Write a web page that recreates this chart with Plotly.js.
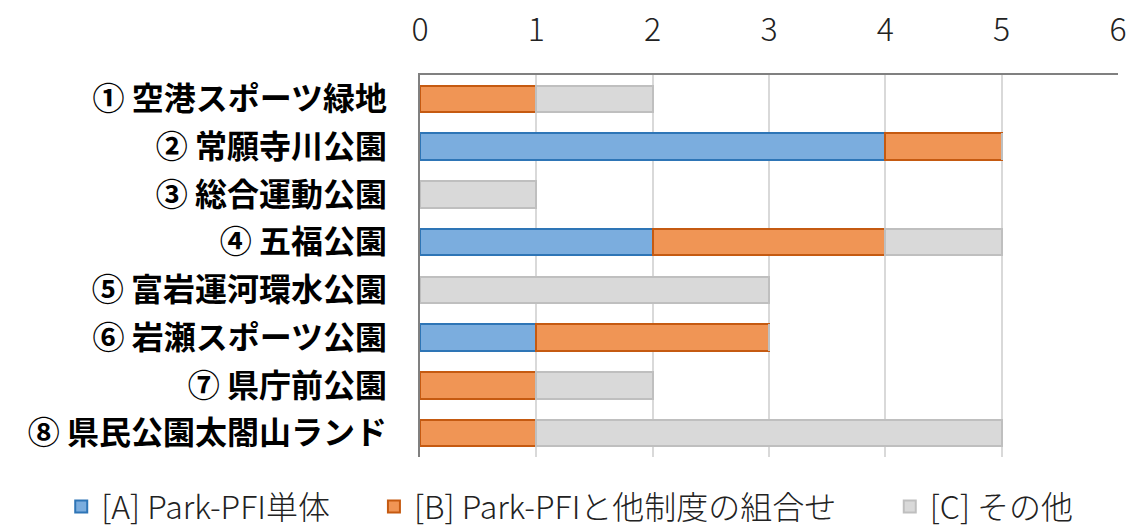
<!DOCTYPE html>
<html><head><meta charset="utf-8">
<script src="https://cdn.plot.ly/plotly-3.0.1.min.js"></script>
<style>html,body{margin:0;padding:0;background:#fff}#c{width:1134px;height:528px}</style>
</head><body><div id="c"></div>
<script>
const categories = ["① 空港スポーツ緑地","② 常願寺川公園","③ 総合運動公園","④ 五福公園","⑤ 富岩運河環水公園","⑥ 岩瀬スポーツ公園","⑦ 県庁前公園","⑧ 県民公園太閤山ランド"];
const seriesA = [0,4,0,2,0,1,0,0];
const seriesB = [1,1,0,2,0,2,1,1];
const seriesC = [1,0,1,1,3,0,1,4];
const seriesNames = ["[A] Park-PFI単体","[B] Park-PFIと他制度の組合せ","[C] その他"];
const tickVals = [0,1,2,3,4,5,6];

const font = "'Noto Sans CJK JP', 'Noto Sans', sans-serif";
function tr(vals, name, fill, line, lg){
  return {type:'bar', orientation:'h', y:categories, x:vals, name:name, legend:lg,
    marker:{color:fill, line:{color:line, width:2}}, hoverinfo:'x+name'};
}
const data = [
  tr(seriesA, seriesNames[0], '#7badde', '#2e75b6', 'legend'),
  tr(seriesB, seriesNames[1], '#f09555', '#c55a11', 'legend2'),
  tr(seriesC, seriesNames[2], '#d9d9d9', '#bfbfbf', 'legend3')
];
function lg(x){
  return {orientation:'h', xref:'paper', yref:'paper', x:x, xanchor:'left', y:-0.058, yanchor:'top',
    font:{size:32, family:font, weight:300, color:'#222'}, itemwidth:30, bgcolor:'rgba(0,0,0,0)'};
}
const layout = {
  width:1134, height:528, barmode:'stack', bargap:0.45,
  margin:{l:420, r:16, t:75, b:71, autoexpand:false},
  paper_bgcolor:'#fff', plot_bgcolor:'#fff',
  font:{family:font, color:'#000'},
  xaxis:{side:'top', range:[0,6], tickvals:tickVals, ticktext:tickVals.map(String),
    showgrid:true, gridcolor:'#d9d9d9', gridwidth:2, zeroline:false,
    showline:true, linecolor:'#808080', linewidth:2.5, mirror:false,
    ticks:'', ticklabelstandoff:19, tickfont:{size:32, family:font, weight:300, color:'#222'}, fixedrange:true},
  yaxis:{autorange:'reversed', showline:true, linecolor:'#808080', linewidth:2.5,
    ticks:'', ticklabelstandoff:24, tickfont:{size:32, family:font, weight:700, color:'#000'},
    showgrid:false, zeroline:false, fixedrange:true},
  showlegend:true,
  legend:lg(-0.514),
  legend2:lg(-0.066),
  legend3:lg(0.673)
};
Plotly.newPlot('c', data, layout, {displayModeBar:false, staticPlot:true});
</script></body></html>
